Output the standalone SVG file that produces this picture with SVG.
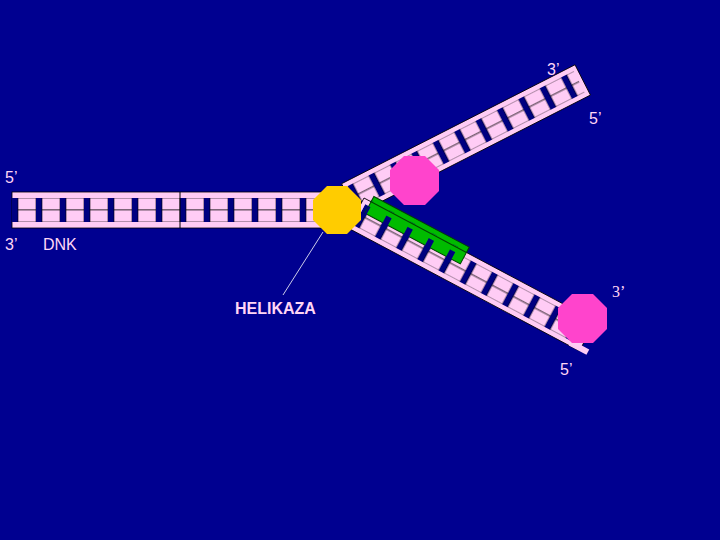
<svg xmlns="http://www.w3.org/2000/svg" width="720" height="540" viewBox="0 0 720 540">
<style>
.bb{fill:#ffccf5;stroke:#000;stroke-width:0.8}
.t{fill:#ffd6f5;font-family:"Liberation Sans",sans-serif;font-size:16px}
.oct{stroke:none}
</style>
<defs>
<pattern id="bases" patternUnits="userSpaceOnUse" width="24" height="24">
<rect width="24" height="24" fill="#000080"/>
<rect x="6" y="0" width="18" height="12" fill="#ffccf5" stroke="#000" stroke-width="0.6"/>
<rect x="6" y="12" width="18" height="12" fill="#ffccf5" stroke="#000" stroke-width="0.6"/>
</pattern>
<pattern id="bars" patternUnits="userSpaceOnUse" width="24" height="24">
<rect x="0" y="6" width="6" height="18" fill="#000080"/>
</pattern>
</defs>
<rect width="720" height="540" fill="#000090"/>
<g id="dna-main" transform="translate(12,192)">
<rect class="bb" x="0" y="0" width="310" height="36"/>
<g transform="translate(0,6)"><rect x="0" y="0" width="310" height="24" fill="url(#bases)"/></g>
<line x1="168" y1="0" x2="168" y2="36" stroke="#000" stroke-width="1"/>
</g>
<g id="arm-upper" transform="translate(357,214) rotate(-27)">
<rect class="bb" x="0" y="-34" width="262" height="34"/>
<g transform="translate(4,-29)"><rect width="254" height="24" fill="url(#bases)"/></g>
</g>
<g id="arm-lower" transform="translate(364,198) rotate(28)">
<rect class="bb" x="0" y="0" width="262" height="34"/>
<rect fill="#ffccf5" x="250" y="28" width="20" height="6"/>
<g transform="translate(4,5)"><rect width="246" height="24" fill="url(#bases)"/></g>
<g id="new-strand">
<rect x="8" y="-6" width="108" height="19" fill="#00bb00" stroke="#004400" stroke-width="1"/>
<line x1="8" y1="0" x2="116" y2="0" stroke="#004400"/>
<g transform="translate(4,-1)"><rect x="4" y="0" width="108" height="18" fill="url(#bars)"/></g>
</g>
</g>
<g id="helikaza">
<polygon class="oct" fill="#ffcc00" points="327,186 347,186 361,200 361,220 347,234 327,234 313,220 313,200"/>
</g>
<g id="enzyme-1">
<polygon class="oct" fill="#ff44cc" points="404,156 425,156 439,170 439,191 425,205 404,205 390,191 390,170"/>
</g>
<g id="enzyme-2">
<polygon class="oct" fill="#ff44cc" points="572,294 593,294 607,308 607,329 593,343 572,343 558,329 558,308"/>
</g>
<g id="connectors">
<line x1="323" y1="232" x2="283" y2="295" stroke="#ffffff" stroke-width="0.8"/>
</g>
<text class="t" x="547" y="75">3’</text>
<text class="t" x="589" y="124">5’</text>
<text class="t" x="5" y="183">5’</text>
<text class="t" x="5" y="250">3’</text>
<text class="t" x="43" y="250" font-size="19">DNK</text>
<text class="t" x="235" y="314" font-weight="bold" font-size="17">HELIKAZA</text>
<text class="t" x="612" y="297" style="font-family:'Liberation Serif',serif">3’</text>
<text class="t" x="560" y="375">5’</text>
</svg>
